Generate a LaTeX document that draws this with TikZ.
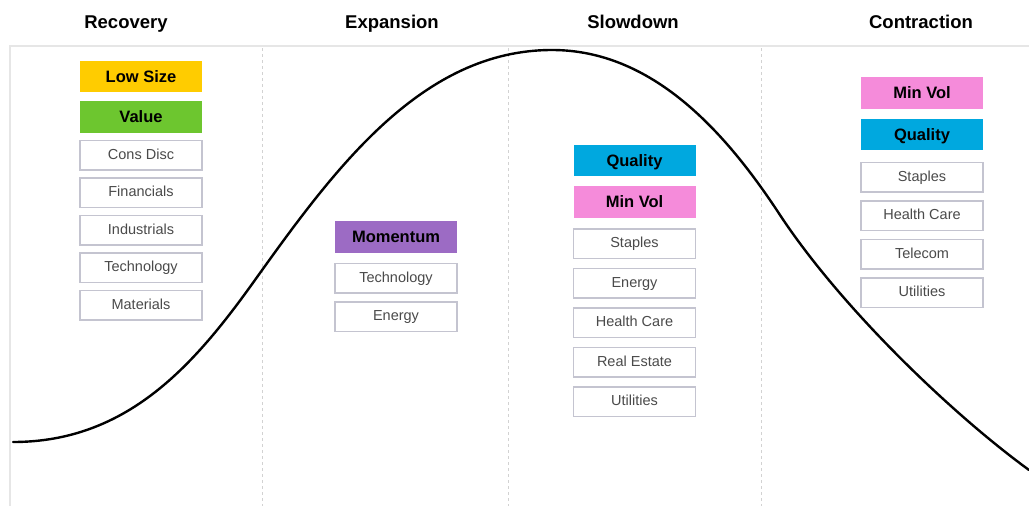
\documentclass[tikz,border=0pt]{standalone}
\usepackage{fontspec}
\setmainfont{Liberation Sans}
\usetikzlibrary{positioning}

\definecolor{lowsize}{HTML}{FFCC00}
\definecolor{value}{HTML}{6DC62F}
\definecolor{momentum}{HTML}{9C6BC4}
\definecolor{quality}{HTML}{00A8DF}
\definecolor{minvol}{HTML}{F58BDA}
\definecolor{boxline}{HTML}{C4C4D0}
\definecolor{framegray}{HTML}{E6E6E6}
\definecolor{sectortext}{HTML}{4A4A4A}

\tikzset{
  phasetitle/.style={anchor=base, inner sep=0pt, font=\fontsize{18.5}{20}\selectfont\bfseries},
  factor/.style={minimum width=122pt, minimum height=31.5pt, inner sep=0pt,
    text height=12pt, text depth=0.2pt, font=\fontsize{16.5}{18}\selectfont\bfseries},
  sector/.style={draw=boxline, line width=1.5pt, fill=white, minimum width=122pt,
    minimum height=29.5pt, inner sep=0pt, text height=10.5pt, text depth=3pt,
    text=sectortext, font=\fontsize{14.5}{16}\selectfont}
}

\begin{document}
\begin{tikzpicture}[x=1pt, y=-1pt, node distance=7.5pt]
  \useasboundingbox (0,0) rectangle (1029,506);

  % frame and phase borders
  \draw[framegray, line width=2pt] (10,506) -- (10,46) -- (1029,46);
  \foreach \x in {262,508,761}
    \draw[gray!35, line width=1pt, dashed] (\x,48) -- (\x,506);

  % cycle
  \draw[line width=2.4pt, line cap=round]
    (13,442) .. controls (128,442) and (195,364) .. (255,280)
    .. controls (335,168) and (422,50) .. (552,50)
    .. controls (652,50) and (725,131) .. (780,215)
    .. controls (840,306) and (949,411.6) .. (1029,470);

  % phase titles
  \node[phasetitle] (RecoveryTitle) at (126,28) {Recovery};
  \node[phasetitle] (ExpansionTitle) at (392,28) {Expansion};
  \node[phasetitle] (SlowdownTitle) at (633,28) {Slowdown};
  \node[phasetitle] (ContractionTitle) at (921,28) {Contraction};

  % recovery
  \node[factor, fill=lowsize] (RecoveryLowSize) at (141,76.5) {Low Size};
  \node[factor, fill=value, below=8.5pt of RecoveryLowSize] (RecoveryValue) {Value};
  \node[sector, below=7pt of RecoveryValue] (RecoveryConsDisc) {Cons Disc};
  \node[sector, below=6.5pt of RecoveryConsDisc] (RecoveryFinancials) {Financials};
  \node[sector, below=6.5pt of RecoveryFinancials] (RecoveryIndustrials) {Industrials};
  \node[sector, below=6.5pt of RecoveryIndustrials] (RecoveryTechnology) {Technology};
  \node[sector, below=6.5pt of RecoveryTechnology] (RecoveryMaterials) {Materials};

  % expansion
  \node[factor, fill=momentum] (ExpansionMomentum) at (396,237) {Momentum};
  \node[sector, below=10pt of ExpansionMomentum] (ExpansionTechnology) {Technology};
  \node[sector, below= of ExpansionTechnology] (ExpansionEnergy) {Energy};

  % slowdown
  \node[factor, fill=quality] (SlowdownQuality) at (634.5,160.5) {Quality};
  \node[factor, fill=minvol, below=9.5pt of SlowdownQuality] (SlowdownMinVol) {Min Vol};
  \node[sector, below=10.5pt of SlowdownMinVol] (SlowdownStaples) {Staples};
  \node[sector, below=8.5pt of SlowdownStaples] (SlowdownEnergy) {Energy};
  \node[sector, below=8.5pt of SlowdownEnergy] (SlowdownHealthCare) {Health Care};
  \node[sector, below=8.5pt of SlowdownHealthCare] (SlowdownRealEstate) {Real Estate};
  \node[sector, below=8.5pt of SlowdownRealEstate] (SlowdownUtilities) {Utilities};

  % contraction
  \node[factor, fill=minvol] (ContractionMinVol) at (922,93) {Min Vol};
  \node[factor, fill=quality, below=9.5pt of ContractionMinVol] (ContractionQuality) {Quality};
  \node[sector, below=11.5pt of ContractionQuality] (ContractionStaples) {Staples};
  \node[sector, below= of ContractionStaples] (ContractionHealthCare) {Health Care};
  \node[sector, below= of ContractionHealthCare] (ContractionTelecom) {Telecom};
  \node[sector, below= of ContractionTelecom] (ContractionUtilities) {Utilities};
\end{tikzpicture}
\end{document}
